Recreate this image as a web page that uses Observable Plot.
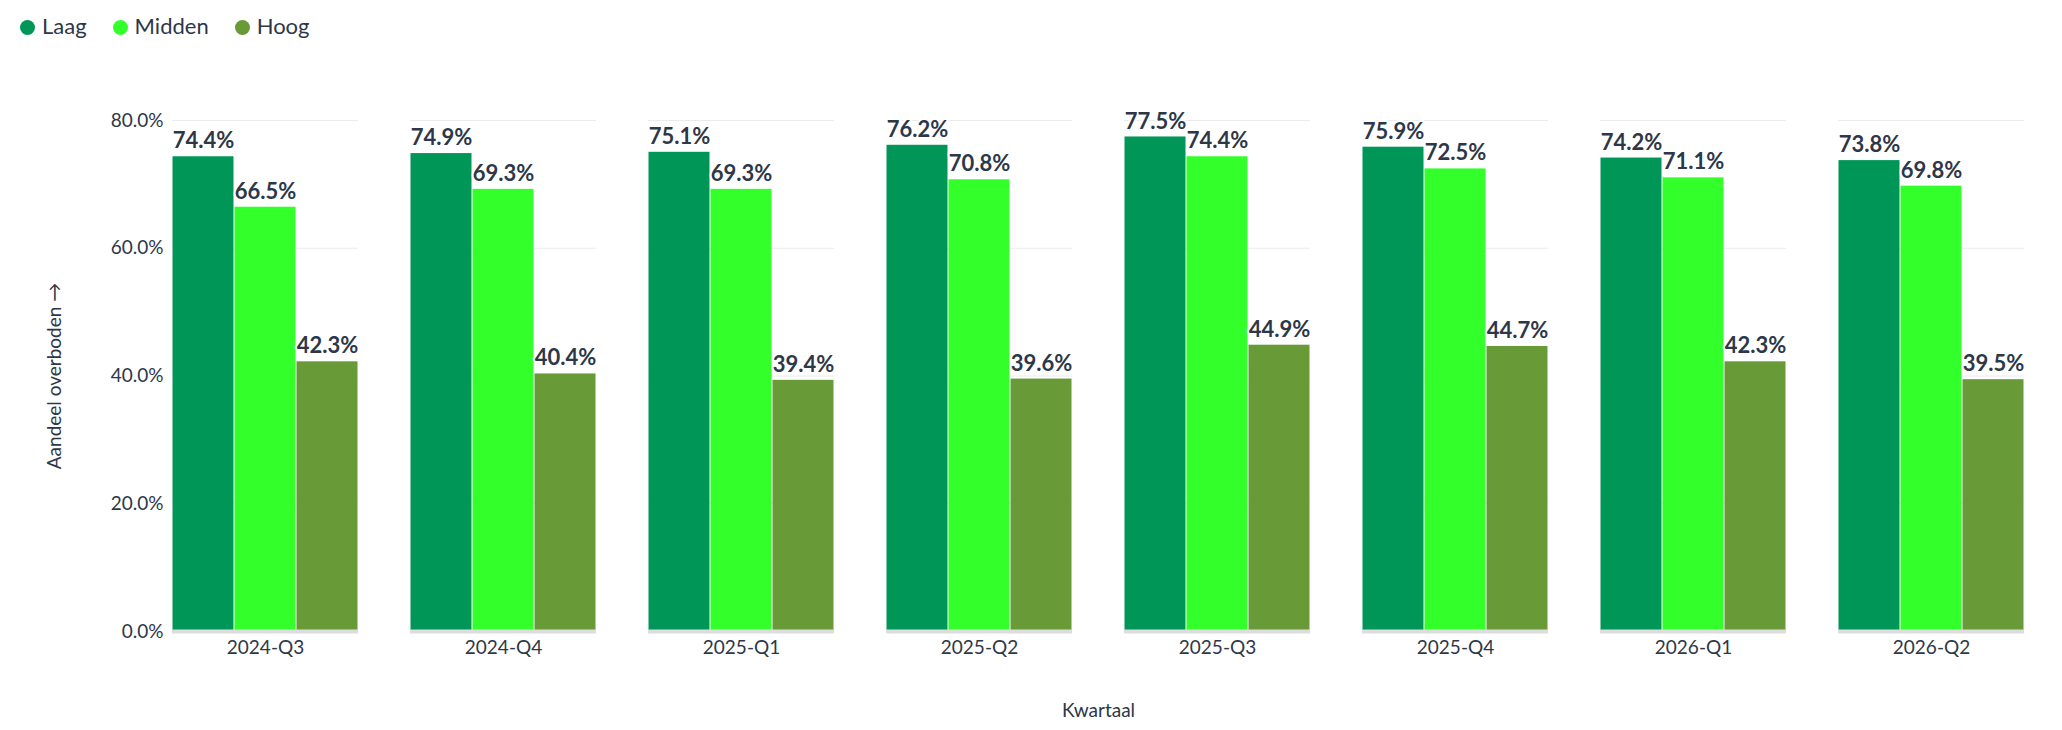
<!DOCTYPE html>
<html><head><meta charset="utf-8">
<script src="https://cdn.jsdelivr.net/npm/d3@7"></script>
<script src="https://cdn.jsdelivr.net/npm/@observablehq/plot@0.6"></script>
<style>
body{margin:0;background:#fff;font-family:Lato,sans-serif;color:#2d3748}
#legend{height:50px;display:flex;align-items:center;padding-left:20px;font-size:22px;gap:26px}
#legend span.d{display:inline-block;width:15px;height:15px;border-radius:50%;margin-right:7px;vertical-align:-1px}
</style></head><body>
<div id="legend"></div>
<div id="chart"></div>
<script>
const quarters = ["2024-Q3","2024-Q4","2025-Q1","2025-Q2","2025-Q3","2025-Q4","2026-Q1","2026-Q2"];
const series = ["Laag","Midden","Hoog"];
const colors = ["#009658","#33ff2a","#689a38"];
const laag = [74.4,74.9,75.1,76.2,77.5,75.9,74.2,73.8];
const midden = [66.5,69.3,69.3,70.8,74.4,72.5,71.1,69.8];
const hoog = [42.3,40.4,39.4,39.6,44.9,44.7,42.3,39.5];
const yTicks = [0,20,40,60,80];

const vals = [laag, midden, hoog];
const data = [];
quarters.forEach((q,i)=>series.forEach((s,j)=>data.push({q,s,v:vals[j][i]})));

document.getElementById("legend").innerHTML = series.map((s,i)=>`<span><span class="d" style="background:${colors[i]}"></span>${s}</span>`).join("");

const fmt = d => d.toFixed(1) + "%";
const plot = Plot.plot({
  width: 2062, height: 680,
  marginLeft: 171, marginRight: 37, marginTop: 70, marginBottom: 99,
  style: {fontFamily: "Lato, sans-serif", fontSize: "19px", color: "#2d3748"},
  fx: {domain: quarters, padding: 0.22, label: "Kwartaal", labelAnchor: "center", labelOffset: 85, tickSize: 0},
  x: {domain: series, axis: null, padding: 0},
  y: {domain: [0,80], ticks: yTicks, tickFormat: fmt, label: "Aandeel overboden", labelAnchor: "center", labelOffset: 125, grid: true, tickSize: 0},
  color: {domain: series, range: colors},
  marks: [
    Plot.gridY(yTicks, {stroke: "#e5e5e5", strokeOpacity: 1, x1: 171, x2: 2025}),
    Plot.barY(data, {fx: "q", x: "s", y: "v", fill: "s", inset: 0.5}),
    Plot.ruleY([0], {stroke: "#ddd", strokeWidth: 4}),
    Plot.text(data, {fx: "q", x: "s", y: "v", text: d => fmt(d.v), dy: -15, fontWeight: "bold", fontSize: 22, fill: "#2d3748", stroke: "white", strokeWidth: 4, paintOrder: "stroke"})
  ]
});
document.getElementById("chart").append(plot);
</script></body></html>
